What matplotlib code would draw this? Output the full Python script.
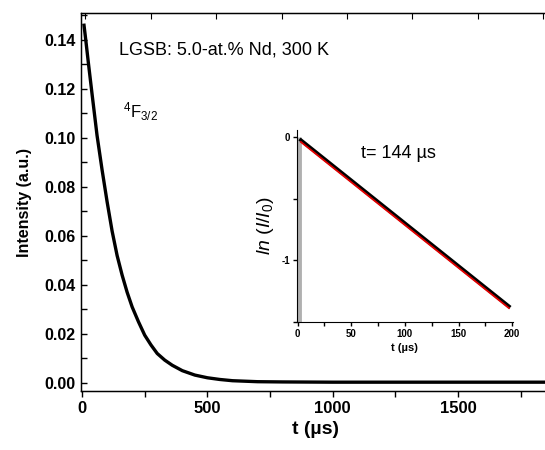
import matplotlib
matplotlib.use("Agg")
import matplotlib.pyplot as plt
from matplotlib.ticker import MultipleLocator

plt.rcParams['font.family'] = ['Liberation Sans', 'DejaVu Sans']
plt.rcParams['mathtext.fontset'] = 'custom'
plt.rcParams['mathtext.rm'] = 'Liberation Sans'
plt.rcParams['mathtext.it'] = 'Liberation Sans:italic'
plt.rcParams['mathtext.bf'] = 'Liberation Sans:bold'

# Main decay curve
t_main = [8, 15, 25, 40, 60, 80, 100, 120, 140, 160, 180, 200, 225, 250, 275,
          300, 330, 360, 400, 450, 500, 550, 600, 700, 800, 1000, 1200, 1500, 1850]
i_main = [0.146, 0.140, 0.131, 0.118, 0.101, 0.087, 0.074, 0.062, 0.052, 0.044,
          0.037, 0.031, 0.025, 0.0195, 0.0155, 0.012, 0.0093, 0.0072, 0.0050,
          0.0032, 0.0021, 0.0014, 0.0009, 0.0005, 0.0004, 0.0003, 0.0003,
          0.0003, 0.0003]

# Inset: ln(I/I0) data and fit
t_ins = [3, 25, 50, 75, 100, 125, 150, 175, 197]
ln_ins = [-0.025, -0.178, -0.352, -0.526, -0.700, -0.874, -1.048, -1.222, -1.375]
t_fit = [3, 197]
ln_fit = [-0.04, -1.39]
t_rise = [1, 1]
ln_rise = [-1.5, 0.0]

fig = plt.figure(figsize=(5.45, 4.5), dpi=100)
ax = fig.add_axes([81/545, 1-391/450, 1-81/545 + 0.01, (391-13)/450])
ax.plot(t_main, i_main, color='black', lw=2.4)
ax.set_xlim(-4, 1848 + 20)
ax.set_ylim(-0.0033, 0.151)
ax.xaxis.set_major_locator(MultipleLocator(500))
ax.xaxis.set_minor_locator(MultipleLocator(250))
ax.yaxis.set_major_locator(MultipleLocator(0.02))
ax.yaxis.set_minor_locator(MultipleLocator(0.01))
ax.yaxis.set_major_formatter(matplotlib.ticker.FormatStrFormatter('%.2f'))
ax.tick_params(axis='x', which='both', direction='out', length=4, width=1,
               labelsize=12, pad=3)
ax.tick_params(axis='y', which='both', direction='in', length=4, width=1,
               labelsize=11.5, pad=4)
for lab in ax.get_xticklabels() + ax.get_yticklabels():
    lab.set_fontweight('bold')
ax.spines['right'].set_visible(False)
for s in ['left', 'bottom', 'top']:
    ax.spines[s].set_linewidth(1.0)
ax.set_xlabel('t (\u00b5s)', fontsize=14, fontweight='bold', labelpad=4)
ax.set_ylabel('Intensity (a.u.)', fontsize=11.5, fontweight='bold', labelpad=9)

axt = ax.twiny()
axt.set_xlim(-17, 1759 + 20 * 250 / 261)
axt.xaxis.set_major_locator(MultipleLocator(250))
axt.tick_params(axis='x', direction='in', length=4, labeltop=False)
axt.spines['right'].set_visible(False)

fig.text(119/545, 1-50/450, 'LGSB: 5.0-at.% Nd, 300 K', fontsize=13,
         va='center', ha='left')
fig.text(123/545, 1-112/450, r'$^{4}$F$_{3/2}$', fontsize=12, va='center', ha='left')

# Inset
ins = fig.add_axes([296.7/545, 1-321.7/450, (512.5-296.7)/545, (321.7-130)/450])
ins.plot(t_rise, ln_rise, color='#b0b0b0', lw=3.5, solid_capstyle='butt')
ins.plot(t_ins, ln_ins, color='black', lw=2.6)
ins.plot(t_fit, ln_fit, color='#e00000', lw=1.3)
ins.set_xlim(-0.9, 200.3)
ins.set_ylim(-1.5, 0.057)
ins.spines['top'].set_visible(False)
ins.spines['right'].set_visible(False)
ins.xaxis.set_major_locator(MultipleLocator(50))
ins.xaxis.set_minor_locator(MultipleLocator(25))
ins.yaxis.set_major_locator(MultipleLocator(1))
ins.yaxis.set_minor_locator(MultipleLocator(0.5))
ins.yaxis.set_major_formatter(matplotlib.ticker.FormatStrFormatter('%d'))
ins.tick_params(which='both', direction='out', length=3, width=1, labelsize=7, pad=2)
for lab in ins.get_xticklabels() + ins.get_yticklabels():
    lab.set_fontweight('bold')
ins.set_xlabel('t (\u00b5s)', fontsize=8, fontweight='bold', labelpad=3)
ins.set_ylabel(r'$ln\ (I/I_0)$', fontsize=14, labelpad=4)
ins.text(0.30, 0.88, 't= 144 \u00b5s', transform=ins.transAxes, fontsize=13,
         ha='left', va='center')
ins.patch.set_alpha(0)

fig.savefig('out.png', dpi=100)
